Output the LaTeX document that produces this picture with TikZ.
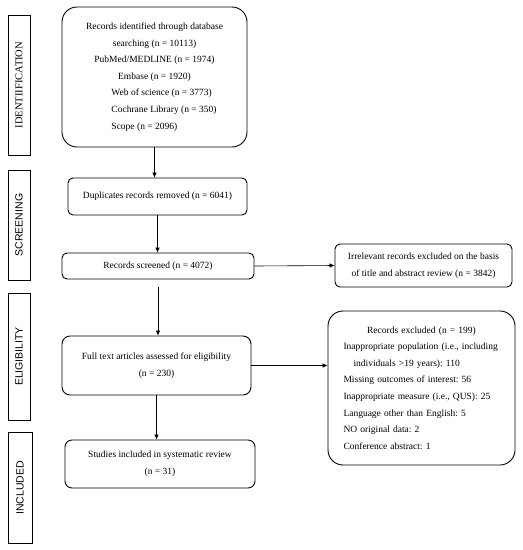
\documentclass[tikz,border=0pt]{standalone}
\usepackage{fontspec}
\setmainfont{Liberation Serif}
\setsansfont{Liberation Sans}
\usetikzlibrary{arrows.meta}
\frenchspacing
\tikzset{
    flow-box/.style = {draw, line width=0.9pt, rectangle, rounded corners=5pt, align=center, font=\fontsize{9.5}{16.6}\selectfont},
    big-box/.style = {flow-box, rounded corners=15pt},
    phase-box/.style = {draw, line width=0.9pt, rectangle, rotate=90, minimum height=22pt, inner sep=0pt, font=\sffamily\fontsize{10.5}{12}\selectfont},
    flow-arrow/.style = {line width=0.6pt, -{Latex[length=5pt,width=4.5pt]}},
}

\begin{document}
\begin{tikzpicture}[x=1pt, y=-1pt]
\useasboundingbox (0,0) rectangle (523,550);

% phases
\node[phase-box, minimum width=140pt, font=\rmfamily\fontsize{10.5}{12}\selectfont] (identify) at (19,85) {IDENTIIFICATION};
\node[phase-box, minimum width=110pt] (screening) at (19,225) {SCREENING};
\node[phase-box, minimum width=127pt] (eligibility) at (19,356.5) {ELIGIBILITY};
\node[phase-box, minimum width=111pt, minimum height=24pt] (included) at (20,488) {INCLUDED};

% flow
\node[big-box, minimum width=185pt, minimum height=140pt] (ident) at (154.5,77) {Records identified through database\\
    searching (n = 10113)\\
    PubMed/MEDLINE (n = 1974)\\
    Embase (n = 1920)\\
    \makebox[86pt][l]{Web of science (n = 3773)}\\
    \makebox[86pt][l]{Cochrane Library (n = 350)}\\
    \makebox[86pt][l]{Scope (n = 2096)}};
\node[flow-box, minimum width=179pt, minimum height=37pt] (dup) at (157.5,196.5) {Duplicates records removed (n = 6041)};
\node[flow-box, minimum width=192pt, minimum height=26pt] (screened) at (158,266) {Records screened (n = 4072)};
\node[flow-box, minimum width=177pt, minimum height=43pt] (irrel) at (423.5,265.5) {Irrelevant records excluded on the basis\\of title and abstract review (n = 3842)};
\node[flow-box, rounded corners=8pt, minimum width=189pt, minimum height=59pt] (full) at (156.5,365.5) {Full text articles assessed for eligibility\\(n = 230)};
\node[big-box, align=left, text width=156pt, minimum width=187pt, minimum height=154pt] (excl) at (421.5,388) {\makebox[156pt]{Records excluded (n = 199)}\\
    Inappropriate population (i.e., including\\
    \hspace*{10pt}individuals >19 years): 110\\
    Missing outcomes of interest: 56\\
    Inappropriate measure (i.e., QUS): 25\\
    Language other than English: 5\\
    NO original data: 2\\
    Conference abstract: 1};
\node[flow-box, rounded corners=7pt, minimum width=190pt, minimum height=48pt] (studies) at (160,464) {Studies included in systematic review\\(n = 31)};

\draw[flow-arrow] (ident.south) -- (ident.south |- dup.north);
\draw[flow-arrow] (dup.south) -- (dup.south |- screened.north);
\draw[flow-arrow, shorten <=8pt] (screened.south) -- (screened.south |- full.north);
\draw[flow-arrow] (screened.east) -- (irrel.west);
\draw[flow-arrow] (full.east) -- (full.east -| excl.west);
\draw[flow-arrow] (full.south) -- (full.south |- studies.north);
\end{tikzpicture}
\end{document}
